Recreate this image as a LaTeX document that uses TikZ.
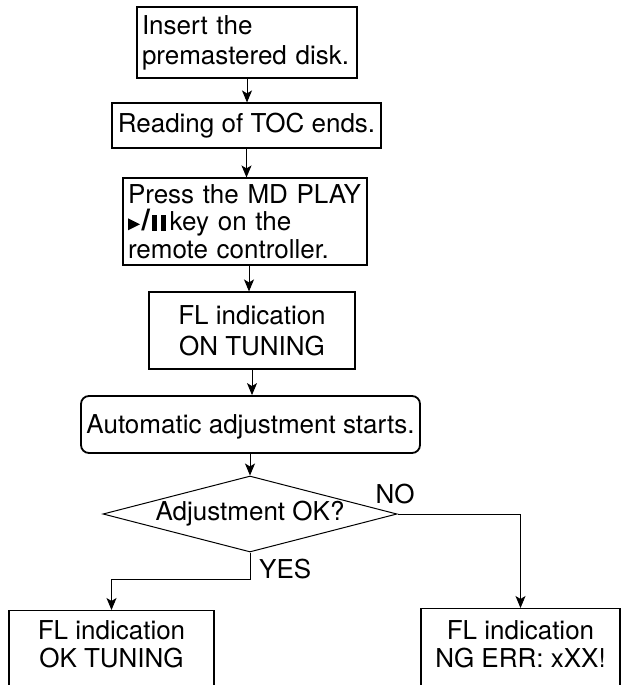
\documentclass[tikz,border=0pt]{standalone}
\usepackage{fontspec}
\setmainfont{TeX Gyre Heros}
\usetikzlibrary{shapes.geometric,arrows.meta}
\newcommand{\myplaypause}{\tikz[baseline=0pt]\fill (0pt,0.5pt)--(0pt,12.5pt)--(12pt,6.5pt)--cycle;\hspace{1.5pt}{\fontsize{30}{30}\selectfont\textbf{/}}\hspace{2pt}\rule{5pt}{16pt}\hspace{3.5pt}\rule{5pt}{16pt}\hspace{4pt}}
\begin{document}
\begin{tikzpicture}[x=1pt,y=1pt,
  box/.style={draw, line width=1.1pt, inner sep=0pt, align=center},
  arr/.style={line width=1pt, -{Stealth[length=12pt,width=10pt,inset=3pt]}},
  fnt/.style={font=\fontsize{26}{#1}\selectfont},
  fnt/.default=28]
\useasboundingbox (0,0) rectangle (621,-685);
\clip (0,0) rectangle (621,-685);
\node[box, minimum width=220, minimum height=71, text width=210, align=left, fnt=30] (b1) at (247,-42.5) {Insert the\\premastered disk.};
\node[box, minimum width=269, minimum height=45, fnt=28] (b2) at (246.5,-125.5) {Reading of TOC ends.};
\node[box, minimum width=244, minimum height=87, text width=234, align=left, fnt=27.5] (b3) at (245,-221.5) {Press the MD PLAY\\\myplaypause key on the\\remote controller.};
\node[box, minimum width=206, minimum height=77, fnt=31] (b4) at (252,-330.5) {FL indication\\ON TUNING};
\node[box, rounded corners=8pt, line width=1.8pt, minimum width=339, minimum height=57, text depth=0pt, fnt=28] (b5) at (250.5,-424.5) {Automatic adjustment starts.};
\node[diamond, draw, line width=1pt, minimum width=294, minimum height=76, inner sep=0pt, aspect=3.87, fnt=28] (d) at (250,-514) {Adjustment OK?};
\node[box, minimum width=205, minimum height=100, anchor=north] (lb) at (111.5,-610) {};
\node[box, minimum width=199, minimum height=100, anchor=north] (rb) at (520.5,-608) {};
\node[anchor=north, inner sep=0pt, align=center, fnt=28] (lt) at (111.5,-620) {FL indication\\OK TUNING};
\node[anchor=north, inner sep=0pt, align=center, fnt=28] (rt) at (520.5,-620) {FL indication\\NG ERR: xXX!};
\node[anchor=base, inner sep=0pt, fnt=28] (no) at (395,-503) {NO};
\node[anchor=base west, inner sep=0pt, fnt=28] (yes) at (259,-578) {YES};
\coordinate (yc) at (250,-579);
\draw[arr] (b1.south) -- (b1.south |- b2.north);
\draw[arr] (b2.south) -- (b2.south |- b3.north);
\draw[arr] ([xshift=4pt]b3.south) -- ([xshift=4pt]b3.south |- b4.north);
\draw[arr] (b4.south) -- (b4.south |- b5.north);
\draw[arr] (b5.south -| d.north) -- (d.north);
\draw[arr] (d.east) -| (rb.north);
\draw[arr] (d.south) -- (yc) -| (lb.north);
\end{tikzpicture}
\end{document}
